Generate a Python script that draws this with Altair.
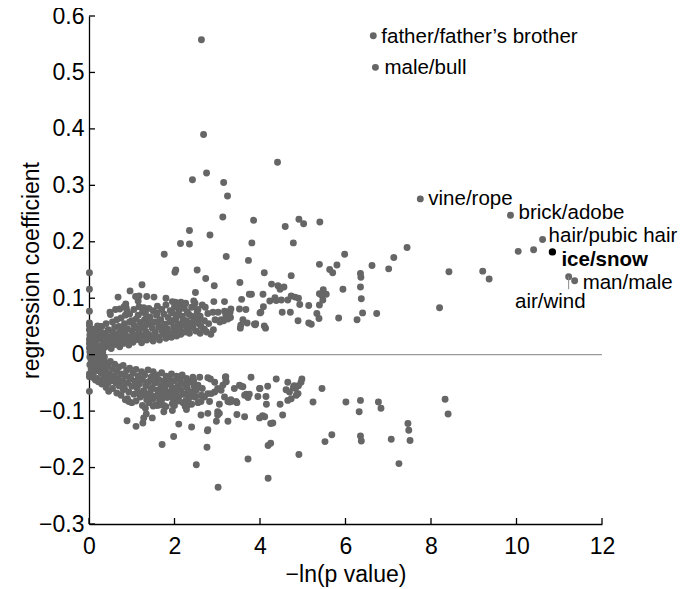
import altair as alt
import pandas as pd

# ---- data ----
x_ticks = [0, 2, 4, 6, 8, 10, 12]
y_ticks = [-0.3, -0.2, -0.1, 0, 0.1, 0.2, 0.3, 0.4, 0.5, 0.6]

axis_points = [(0.01, 0.145), (0.01, 0.116), (0.01, 0.077), (0.01, 0.056), (0.01, 0.052),
               (0.01, 0.044), (0.01, 0.027), (0.01, 0.012), (0.01, -0.034), (0.01, -0.039),
               (0.01, -0.065)]

upper_band = [
    (0.02, 0.005), (0.05, 0.012), (0.08, 0.003), (0.10, 0.018), (0.12, 0.008), (0.15, 0.022),
    (0.18, 0.012), (0.20, 0.004), (0.22, 0.028), (0.25, 0.016), (0.28, 0.009), (0.30, 0.032),
    (0.33, 0.020), (0.35, 0.012), (0.38, 0.038), (0.40, 0.026), (0.42, 0.015), (0.45, 0.044),
    (0.47, 0.032), (0.50, 0.020), (0.52, 0.011), (0.55, 0.040), (0.57, 0.027), (0.60, 0.048),
    (0.62, 0.018), (0.65, 0.035), (0.68, 0.024), (0.70, 0.050), (0.72, 0.014), (0.75, 0.041),
    (0.78, 0.030), (0.80, 0.020), (0.83, 0.055), (0.85, 0.036), (0.88, 0.025), (0.90, 0.046),
    (0.93, 0.017), (0.95, 0.058), (0.98, 0.031), (1.00, 0.042), (1.03, 0.022), (1.05, 0.052),
    (1.08, 0.035), (1.10, 0.063), (1.13, 0.027), (1.15, 0.045), (1.18, 0.038), (1.20, 0.057),
    (1.23, 0.021), (1.25, 0.048), (1.28, 0.033), (1.30, 0.062), (1.33, 0.041), (1.35, 0.026),
    (1.38, 0.054), (1.40, 0.036), (1.43, 0.067), (1.45, 0.030), (1.48, 0.047), (1.50, 0.024),
    (1.53, 0.058), (1.55, 0.040), (1.58, 0.070), (1.60, 0.032), (1.63, 0.050), (1.65, 0.026),
    (1.68, 0.062), (1.70, 0.043), (1.73, 0.036), (1.75, 0.072), (1.78, 0.054), (1.80, 0.029),
    (1.83, 0.046), (1.85, 0.066), (1.88, 0.038), (1.90, 0.058), (1.93, 0.031), (1.95, 0.074),
    (1.98, 0.049), (2.00, 0.040), (2.03, 0.064), (2.05, 0.033), (2.08, 0.055), (2.10, 0.078),
    (2.13, 0.044), (2.15, 0.036), (2.18, 0.068), (2.20, 0.052), (2.23, 0.082), (2.25, 0.040),
    (2.28, 0.060), (2.30, 0.047), (2.33, 0.072), (2.35, 0.038), (2.38, 0.056), (2.40, 0.084),
    (2.43, 0.048), (2.46, 0.065), (2.50, 0.042), (2.53, 0.075), (2.56, 0.055),
    (0.03, 0.000), (0.09, 0.008), (0.04, 0.015), (0.16, 0.004), (0.07, 0.024), (0.14, 0.030),
    (0.24, 0.002), (0.32, 0.004), (0.17, 0.036), (0.27, 0.040), (0.01, 0.020), (0.03, 0.030),
    (2.55, 0.060), (2.62, 0.050), (2.70, 0.045), (2.60, 0.038), (2.75, 0.040), (2.85, 0.036),
    (2.80, 0.055), (2.95, 0.062), (3.06, 0.058), (3.15, 0.060), (3.25, 0.063), (3.30, 0.075),
    (3.20, 0.070),
    (0.10, 0.035), (0.20, 0.040), (0.30, 0.050), (0.35, 0.028), (0.40, 0.055), (0.45, 0.020),
    (0.55, 0.058), (0.60, 0.030), (0.65, 0.062), (0.70, 0.038), (0.75, 0.065), (0.80, 0.045),
    (0.85, 0.070), (0.90, 0.032), (0.95, 0.072), (1.00, 0.060), (1.05, 0.080), (1.10, 0.048),
    (1.15, 0.070), (1.20, 0.030), (1.25, 0.075), (1.30, 0.050), (1.35, 0.066), (1.40, 0.082),
    (1.45, 0.058), (1.50, 0.078), (1.55, 0.033), (1.60, 0.086), (1.65, 0.060), (1.70, 0.080),
    (1.75, 0.050), (1.80, 0.088), (1.85, 0.042), (1.90, 0.078), (1.95, 0.060), (2.00, 0.085),
    (2.05, 0.070), (2.10, 0.045), (2.15, 0.083), (2.20, 0.062), (2.25, 0.090), (2.30, 0.075),
    (2.35, 0.052), (2.40, 0.068), (2.45, 0.095), (2.50, 0.058), (2.55, 0.080), (2.60, 0.068),
    (2.65, 0.088), (2.70, 0.060),
    (0.05, 0.040), (0.12, 0.045), (0.02, 0.035), (0.25, 0.050),
]

lower_band = [
    (0.02, -0.004), (0.05, -0.010), (0.07, -0.002), (0.10, -0.016), (0.12, -0.007), (0.15, -0.022),
    (0.18, -0.012), (0.20, -0.028), (0.22, -0.005), (0.25, -0.018), (0.28, -0.032), (0.30, -0.010),
    (0.33, -0.024), (0.35, -0.038), (0.38, -0.014), (0.40, -0.030), (0.43, -0.042), (0.45, -0.020),
    (0.48, -0.035), (0.50, -0.012), (0.53, -0.046), (0.55, -0.026), (0.58, -0.038), (0.60, -0.017),
    (0.63, -0.050), (0.65, -0.030), (0.68, -0.042), (0.70, -0.022), (0.73, -0.055), (0.75, -0.034),
    (0.78, -0.046), (0.80, -0.019), (0.83, -0.060), (0.85, -0.038), (0.88, -0.028), (0.90, -0.050),
    (0.93, -0.066), (0.95, -0.024), (0.98, -0.043), (1.00, -0.056), (1.03, -0.033), (1.05, -0.070),
    (1.08, -0.047), (1.10, -0.026), (1.13, -0.060), (1.15, -0.038), (1.18, -0.052), (1.20, -0.075),
    (1.23, -0.030), (1.25, -0.044), (1.28, -0.064), (1.30, -0.036), (1.33, -0.055), (1.35, -0.080),
    (1.38, -0.027), (1.40, -0.048), (1.43, -0.068), (1.45, -0.040), (1.48, -0.058), (1.50, -0.030),
    (1.53, -0.074), (1.55, -0.050), (1.58, -0.036), (1.60, -0.063), (1.63, -0.044), (1.65, -0.082),
    (1.68, -0.055), (1.70, -0.032), (1.73, -0.070), (1.75, -0.047), (1.78, -0.060), (1.80, -0.038),
    (1.83, -0.076), (1.85, -0.052), (1.88, -0.042), (1.90, -0.066), (1.93, -0.034), (1.95, -0.058),
    (1.98, -0.080), (2.00, -0.046), (2.03, -0.068), (2.05, -0.038), (2.08, -0.056), (2.10, -0.074),
    (2.13, -0.044), (2.15, -0.062), (2.18, -0.036), (2.20, -0.085), (2.23, -0.052), (2.25, -0.070),
    (2.28, -0.042), (2.30, -0.060), (2.33, -0.078), (2.36, -0.048), (2.40, -0.066), (2.43, -0.040),
    (2.46, -0.056), (2.50, -0.074),
    (0.06, -0.006), (0.13, -0.002), (0.11, -0.012), (0.19, -0.018), (0.26, -0.008), (0.36, -0.004),
    (0.02, -0.018), (0.05, -0.025), (0.09, -0.030), (0.31, -0.045),
    (2.59, -0.040), (2.78, -0.041), (2.84, -0.043), (2.94, -0.049), (3.19, -0.040), (3.21, -0.048),
    (3.13, -0.054), (3.09, -0.063), (3.01, -0.060), (2.94, -0.066), (2.78, -0.069), (2.63, -0.072),
    (2.51, -0.063), (2.55, -0.054), (2.47, -0.075), (2.70, -0.075), (2.86, -0.069), (3.17, -0.075),
    (0.10, -0.035), (0.20, -0.042), (0.30, -0.052), (0.40, -0.058), (0.45, -0.050), (0.55, -0.060),
    (0.60, -0.045), (0.65, -0.068), (0.70, -0.055), (0.75, -0.072), (0.80, -0.062), (0.85, -0.050),
    (0.90, -0.078), (0.95, -0.040), (1.00, -0.085), (1.05, -0.055), (1.10, -0.082), (1.15, -0.068),
    (1.20, -0.045), (1.25, -0.090), (1.30, -0.070), (1.35, -0.050), (1.40, -0.085), (1.45, -0.062),
    (1.50, -0.078), (1.55, -0.044), (1.60, -0.090), (1.65, -0.066), (1.70, -0.080), (1.75, -0.058),
    (1.80, -0.092), (1.85, -0.070), (1.90, -0.050), (1.95, -0.076), (2.00, -0.090), (2.05, -0.060),
    (2.10, -0.082), (2.15, -0.050), (2.20, -0.070), (2.25, -0.092), (2.30, -0.052), (2.35, -0.072),
    (2.40, -0.088), (2.45, -0.046), (2.55, -0.085), (2.65, -0.060),
    (0.08, -0.040), (0.15, -0.045), (0.22, -0.048),
]

upper_scatter = [
    (2.63, 0.558), (2.68, 0.390), (4.41, 0.341),
    (2.42, 0.310), (2.75, 0.322), (3.15, 0.305), (3.24, 0.281), (3.13, 0.244), (3.85, 0.238),
    (2.35, 0.220), (2.83, 0.212), (2.14, 0.197), (2.35, 0.196), (3.81, 0.198), (1.76, 0.178),
    (3.21, 0.174), (3.73, 0.167), (2.01, 0.146), (2.03, 0.150), (2.53, 0.150), (2.73, 0.135),
    (2.93, 0.122), (3.53, 0.128), (4.10, 0.145), (2.49, 0.110), (3.80, 0.107), (3.75, 0.107),
    (4.07, 0.107), (3.57, 0.098), (3.17, 0.094), (2.92, 0.094), (2.48, 0.091), (1.80, 0.100),
    (1.52, 0.102), (1.24, 0.124), (0.96, 0.113), (0.68, 0.102), (1.17, 0.104), (1.15, 0.095),
    (1.35, 0.103), (0.86, 0.090), (0.87, 0.083), (0.72, 0.081), (0.49, 0.075), (0.20, 0.051),
    (2.02, 0.093), (2.15, 0.093), (2.08, 0.088), (2.72, 0.084), (2.90, 0.075), (2.78, 0.073),
    (3.02, 0.075), (3.17, 0.077), (3.27, 0.076), (3.32, 0.081), (3.52, 0.081), (3.67, 0.080),
    (3.55, 0.052), (3.90, 0.055), (4.10, 0.051), (2.91, 0.044), (3.31, 0.066), (3.09, 0.062),
    (0.50, 0.071), (0.82, 0.085), (0.89, 0.077), (1.17, 0.085), (1.28, 0.083), (1.32, 0.074),
    (1.59, 0.074), (1.95, 0.094), (2.06, 0.088), (2.26, 0.091), (2.45, 0.085), (1.09, 0.103),
    (0.62, 0.080), (3.70, 0.056), (3.89, 0.053), (4.00, 0.074), (3.60, 0.062), (3.54, 0.047),
    (4.91, 0.240), (5.02, 0.232), (5.40, 0.235), (4.59, 0.227), (4.78, 0.198), (7.44, 0.190),
    (7.13, 0.172), (5.98, 0.178), (6.62, 0.158), (7.01, 0.152), (5.39, 0.160), (5.63, 0.151),
    (5.70, 0.145), (5.80, 0.159), (4.73, 0.140), (6.35, 0.144), (6.36, 0.137), (6.35, 0.120),
    (5.94, 0.116), (8.42, 0.147), (8.20, 0.083), (4.27, 0.125), (4.42, 0.122), (4.56, 0.120),
    (4.47, 0.116), (4.35, 0.101), (4.50, 0.097), (4.38, 0.096), (4.65, 0.097), (4.73, 0.104),
    (4.82, 0.102), (4.90, 0.100), (4.23, 0.095), (4.08, 0.085), (4.02, 0.075), (3.87, 0.054),
    (4.13, 0.047), (4.52, 0.075), (4.71, 0.075), (4.93, 0.089), (5.14, 0.087), (4.89, 0.060),
    (5.14, 0.056), (5.20, 0.054), (5.33, 0.073), (5.38, 0.064), (5.39, 0.088), (5.47, 0.097),
    (5.39, 0.108), (5.48, 0.115), (5.55, 0.107), (5.43, 0.106), (5.84, 0.065), (6.27, 0.062),
    (6.37, 0.099), (6.40, 0.074), (6.73, 0.073),
    (10.04, 0.183), (10.40, 0.186), (9.21, 0.148), (9.36, 0.134),
]

lower_scatter = [
    (0.46, -0.065), (0.89, -0.117), (1.10, -0.127), (1.28, -0.112), (1.34, -0.105), (1.48, -0.112),
    (1.26, -0.121), (1.71, -0.159), (1.98, -0.145), (2.10, -0.123), (1.75, -0.101), (1.95, -0.099),
    (1.50, -0.091), (1.67, -0.089), (2.40, -0.128), (2.51, -0.195), (2.76, -0.164), (2.77, -0.135),
    (3.02, -0.235), (3.72, -0.185), (3.05, -0.104), (2.30, -0.090), (2.28, -0.097),
    (0.85, -0.080), (0.93, -0.083), (1.24, -0.071), (1.40, -0.075), (1.48, -0.077), (1.60, -0.073),
    (1.32, -0.095), (1.55, -0.089), (1.75, -0.090), (1.95, -0.087), (2.26, -0.082),
    (3.79, -0.040), (4.38, -0.043), (4.96, -0.049), (3.52, -0.054), (3.60, -0.057), (3.40, -0.060),
    (4.00, -0.060), (4.18, -0.056), (3.68, -0.070), (3.72, -0.076), (3.64, -0.072), (3.95, -0.074),
    (4.14, -0.074), (3.25, -0.083), (3.33, -0.083), (3.44, -0.083), (3.05, -0.088), (2.62, -0.083),
    (2.82, -0.083), (4.15, -0.088), (4.47, -0.088), (4.69, -0.066), (4.73, -0.078), (4.85, -0.072),
    (4.89, -0.069), (4.65, -0.081), (2.62, -0.107), (2.78, -0.104), (3.01, -0.101), (3.01, -0.107),
    (3.46, -0.106), (3.64, -0.110), (4.53, -0.107), (3.25, -0.118), (2.98, -0.118), (2.78, -0.133),
    (3.20, -0.039), (3.20, -0.048), (3.56, -0.056), (3.29, -0.084), (3.46, -0.085), (3.32, -0.080),
    (3.75, -0.070), (3.99, -0.060), (4.65, -0.049), (4.61, -0.062), (4.80, -0.055), (4.90, -0.055),
    (4.83, -0.060), (4.98, -0.043), (4.78, -0.058), (5.24, -0.084), (5.45, -0.060),
    (3.99, -0.112), (4.06, -0.108), (4.11, -0.110), (4.25, -0.122), (4.30, -0.121), (4.19, -0.161),
    (4.25, -0.157), (4.91, -0.177), (4.19, -0.219), (5.52, -0.154), (5.68, -0.142), (6.01, -0.084),
    (6.35, -0.081), (6.32, -0.101), (6.35, -0.144), (6.37, -0.153), (6.77, -0.084), (6.83, -0.095),
    (7.07, -0.150), (7.25, -0.193), (7.46, -0.122), (7.48, -0.134), (7.51, -0.152), (8.33, -0.079),
    (8.40, -0.105),
]

label_names = ["father/father\u2019s brother", "male/bull", "vine/rope", "brick/adobe",
               "hair/pubic hair", "ice/snow", "man/male", "air/wind"]
label_x = [6.65, 6.70, 7.75, 9.86, 10.61, 10.84, 11.36, 11.22]
label_y = [0.565, 0.509, 0.276, 0.247, 0.204, 0.182, 0.131, 0.138]
pointer_y2 = 0.116

# ---- build tables ----
gray_pts = axis_points + upper_band + lower_band + upper_scatter + lower_scatter
for i, n in enumerate(label_names):
    if n != "ice/snow":
        gray_pts.append((label_x[i], label_y[i]))
df = pd.DataFrame(gray_pts, columns=["x", "y"])
ice_i = label_names.index("ice/snow")
df_ice = pd.DataFrame({"x": [label_x[ice_i]], "y": [label_y[ice_i]]})

W, H = 513, 508
FONT = "Liberation Sans"
xs = alt.Scale(domain=[0, 12], nice=False, zero=False)
ys = alt.Scale(domain=[-0.3, 0.6], nice=False, zero=False)

xaxis = alt.Axis(values=x_ticks, title="\u2212ln(p value)", ticks=False, tickSize=0, grid=False,
                 labelPadding=22, labelBaseline="middle", labelFlush=False, labelOverlap=False,
                 titleX=W / 2, titleY=50, titleBaseline="middle", titleAlign="center")
yaxis = alt.Axis(values=y_ticks, title="regression coefficient", ticks=False, tickSize=0, grid=False,
                 labelPadding=5, labelFlush=False, labelOverlap=False, format="~g",
                 labelExpr="replace(datum.label, '-', '\u2212')",
                 titleX=-58, titleY=H / 2, titleAngle=270, titleBaseline="middle", titleAlign="center")

zero_line = alt.Chart(pd.DataFrame({"y": [0]})).mark_rule(color="#9a9a9a", strokeWidth=1.4).encode(
    x=alt.value(0), x2=alt.value(W), y=alt.Y("y:Q", scale=ys))

pts = alt.Chart(df).mark_circle(size=48, color="#666666", opacity=1).encode(
    x=alt.X("x:Q", scale=xs, axis=xaxis),
    y=alt.Y("y:Q", scale=ys, axis=yaxis))

ice = alt.Chart(df_ice).mark_circle(size=54, color="#000000", opacity=1).encode(
    x=alt.X("x:Q", scale=xs), y=alt.Y("y:Q", scale=ys))

pointer = alt.Chart(pd.DataFrame({"x": [label_x[-1]], "y": [label_y[-1]], "y2": [pointer_y2]})).mark_rule(
    color="#8a8a8a", strokeWidth=1).encode(
    x=alt.X("x:Q", scale=xs), y=alt.Y("y:Q", scale=ys), y2="y2:Q")

xt = alt.Chart(pd.DataFrame({"v": x_ticks})).mark_rule(color="black", strokeWidth=1.3).encode(
    x=alt.X("v:Q", scale=xs), y=alt.value(H), y2=alt.value(H - 6))
yt = alt.Chart(pd.DataFrame({"v": y_ticks})).mark_rule(color="black", strokeWidth=1.3).encode(
    y=alt.Y("v:Q", scale=ys), x=alt.value(0), x2=alt.value(6))

offsets = {  # dx, dy, align, weight
    "father/father\u2019s brother": (8, 7, "left", "normal"),
    "male/bull": (9, 7, "left", "normal"),
    "vine/rope": (8, 6, "left", "normal"),
    "brick/adobe": (8, 4, "left", "normal"),
    "hair/pubic hair": (6, 2, "left", "normal"),
    "ice/snow": (9, 14, "left", "bold"),
    "man/male": (8, 8, "left", "normal"),
    "air/wind": (17, 31, "right", "normal"),
}
text_layers = []
for i, n in enumerate(label_names):
    dx, dy, al, wt = offsets[n]
    t = alt.Chart(pd.DataFrame({"x": [label_x[i]], "y": [label_y[i]], "t": [n]})).mark_text(
        dx=dx, dy=dy, align=al, baseline="alphabetic", fontSize=20.5, font=FONT,
        fontWeight=wt, color="black").encode(
        x=alt.X("x:Q", scale=xs), y=alt.Y("y:Q", scale=ys), text="t:N")
    text_layers.append(t)

chart = alt.layer(zero_line, pts, ice, pointer, xt, yt, *text_layers).properties(
    width=W, height=H,
    autosize=alt.AutoSizeParams(type="none"),
    padding={"left": 81, "top": 8, "right": 79, "bottom": 64},
).configure_view(stroke=None).configure_axis(
    domainColor="black", domainWidth=1.3, labelColor="black", titleColor="black",
    labelFont=FONT, titleFont=FONT, labelFontSize=23, titleFontSize=23, titleFontWeight="normal",
)

chart.save("out.html", embed_options={"renderer": "svg", "actions": False})
